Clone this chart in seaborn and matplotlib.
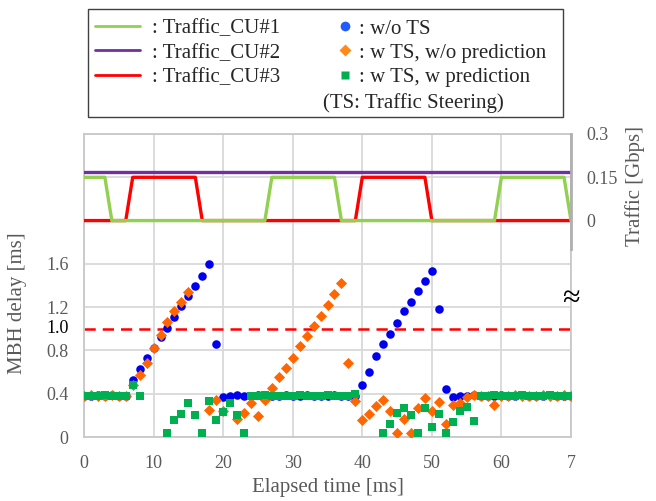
import numpy as np
import pandas as pd
import matplotlib
matplotlib.use("Agg")
import matplotlib.pyplot as plt
from matplotlib.lines import Line2D
from matplotlib.patches import Rectangle
import seaborn as sns

nan = np.nan

# ---- data ----
time_ms = list(range(71))

delay_wo_ts = [0.38, 0.38, 0.39, 0.38, 0.39, 0.38, 0.38,
               0.53, 0.63, 0.73, 0.82, 0.92, 1.01, 1.11, 1.21, 1.30, 1.40, 1.49, 1.60, 0.86, 0.37,
               0.38, 0.39, 0.38, 0.38, 0.39, 0.38, 0.38, 0.38, 0.39, 0.38, 0.38, 0.39, 0.38, 0.38,
               0.38, 0.39, 0.38, 0.38, 0.38,
               0.48, 0.60, 0.75, 0.86, 0.95, 1.05, 1.16, 1.25, 1.35, 1.44, 1.53, 1.18, 0.44, 0.37,
               0.38, 0.38, 0.39, 0.38, 0.38, 0.38, 0.39, 0.38, 0.38, 0.39, 0.38, 0.38, 0.38, 0.39,
               0.38, 0.38, 0.38]

delay_ts_wo_pred = [0.38, 0.39, 0.38, 0.38, 0.39, 0.38, 0.38,
                    0.48, 0.57, 0.68, 0.82, 0.94, 1.06, 1.16, 1.25, 1.34,
                    nan, nan,
                    0.25, 0.34, 0.24, nan, 0.17, 0.22, 0.31, 0.19, 0.34,
                    0.45, 0.55, 0.64, 0.73, 0.84, 0.93, 1.03, 1.12, 1.22, 1.32, 1.42,
                    0.68, 0.33, 0.16, 0.21, 0.29, 0.34, 0.24, 0.04, 0.17, 0.04, 0.27, 0.36, 0.24,
                    0.32, 0.12, 0.30, 0.31, 0.37, 0.39,
                    0.38, 0.38, 0.30, 0.38, 0.38, 0.39, 0.38, 0.38, 0.38, 0.39, 0.38, 0.38, 0.39, 0.38]

delay_ts_w_pred = [0.38, 0.38, 0.38, 0.39, 0.38, 0.38, 0.38, 0.48, 0.38,
                   nan, nan, nan,
                   0.04, 0.16, 0.21, 0.31, 0.20, 0.04, 0.33, 0.16, 0.23, 0.31, 0.20, 0.04,
                   0.38, 0.38, 0.39, 0.38, 0.38, 0.38, 0.38, 0.39, 0.38, 0.38, 0.38, 0.39, 0.38,
                   0.38, 0.38, 0.40,
                   nan, nan, nan,
                   0.04, 0.12, 0.22, 0.27, 0.20, 0.04, 0.27, 0.09, 0.21, 0.04, 0.14, 0.24, 0.28, 0.15,
                   0.38, 0.38, 0.39, 0.38, 0.38, 0.38, 0.39, 0.38, 0.38, 0.38, 0.39, 0.38, 0.38, 0.38]

cu1_t = [0, 3, 4, 26, 27, 36, 37, 59, 60, 69, 70]
cu1_gbps = [0.15, 0.15, 0, 0, 0.15, 0.15, 0, 0, 0.15, 0.15, 0]
cu2_t = [0, 70]
cu2_gbps = [0.17, 0.17]
cu3_t = [0, 6, 7, 16, 17, 39, 40, 49, 50, 70]
cu3_gbps = [0, 0, 0.15, 0.15, 0, 0, 0.15, 0.15, 0, 0]

delay_limit = 1.0
xtick_vals = [0, 10, 20, 30, 40, 50, 60, 70]
xtick_labels = ["0", "10", "20", "30", "40", "50", "60", "7"]
ytick_vals = [0, 0.4, 0.8, 1.2, 1.6, 2.0, 2.4, 2.8]
ytick_labels = ["0", "0.4", "0.8", "1.2", "1.6", "", "", ""]
y2tick_vals = [0, 0.15, 0.3]
y2tick_labels = ["0", "0.15", "0.3"]

# ---- style ----
sns.set_theme(style="whitegrid")
plt.rcParams["font.family"] = "Liberation Serif"

GRAY = "#595959"
GRID = "#D9D9D9"

fig = plt.figure(figsize=(6.56, 5.01), dpi=100)
ax = fig.add_axes([84/656, 1-437/501, 487/656, 303/501])
ax.set_facecolor("white")

series = [
    (delay_wo_ts, "#0000F0", "o", 38),
    (delay_ts_wo_pred, "#FF6600", "D", 32),
    (delay_ts_w_pred, "#00B050", "s", 32),
]
for vals, col, mk, sz in series:
    df = pd.DataFrame({"t": time_ms, "d": vals}).dropna()
    sns.scatterplot(data=df, x="t", y="d", color=col, marker=mk, s=sz,
                    linewidth=0, ax=ax, legend=False, zorder=3)

ax.axhline(delay_limit, color="#FF0000", lw=1.8, dashes=(4.5, 2.8), zorder=2)

ax.set_xlim(0, 70)
ax.set_ylim(0, 2.8)
ax.set_xticks(xtick_vals)
ax.set_xticklabels(xtick_labels)
ax.set_yticks(ytick_vals)
ax.set_yticklabels(ytick_labels)
ax.tick_params(axis="both", length=0, labelsize=13, labelcolor=GRAY)
ax.tick_params(axis="y", pad=11)
ax.tick_params(axis="x", pad=13)
ax.grid(True, color=GRID, lw=1.3)
for s in ax.spines.values():
    s.set_color("#C8C8C8")
    s.set_linewidth(1.3)

ax.set_xlabel("Elapsed time [ms]", fontsize=15, color=GRAY, labelpad=4)
ax.set_ylabel("MBH delay [ms]", fontsize=15, color=GRAY)
ax.yaxis.set_label_coords(-0.118, 0.44)

ax.annotate("1.0", xy=(0, delay_limit), xycoords=ax.get_yaxis_transform(),
            xytext=(-11, 0), textcoords="offset points", ha="right", va="center",
            fontsize=13, color="black")

# traffic on secondary axis
ax2 = ax.twinx()
sns.lineplot(x=cu2_t, y=cu2_gbps, color="#7030A0", lw=2.4, ax=ax2)
sns.lineplot(x=cu3_t, y=cu3_gbps, color="#FF0000", lw=2.4, ax=ax2)
sns.lineplot(x=cu1_t, y=cu1_gbps, color="#92D050", lw=2.4, ax=ax2)
ax2.set_ylim(-0.75, 0.3)
ax2.set_yticks(y2tick_vals)
ax2.set_yticklabels(y2tick_labels)
ax2.grid(False)
ax2.tick_params(axis="y", length=0, labelsize=13, labelcolor=GRAY, pad=11)
for s in ax2.spines.values():
    s.set_visible(False)
ax2.spines["right"].set_visible(True)
ax2.spines["right"].set_color("#B0B0B0")
ax2.spines["right"].set_linewidth(2)
ax2.spines["right"].set_bounds(-0.1, 0.3)
ax2.set_ylabel("Traffic [Gbps]", fontsize=15, color=GRAY, rotation=90)
ax2.yaxis.set_label_coords(1.112, 0.83)

ax.text(1.0, 1.27, "\u2248", transform=ax.get_yaxis_transform(), ha="center", va="center",
        fontsize=23, color="black", zorder=5, clip_on=False)

# ---- legend ----
fig.patches.append(Rectangle((88/656, 1-117/501), 475/656, 108/501, transform=fig.transFigure,
                             fill=False, edgecolor="#404040", lw=1.0))
line_handles = [Line2D([], [], color="#92D050", lw=2),
                Line2D([], [], color="#7030A0", lw=2),
                Line2D([], [], color="#FF0000", lw=2)]
line_labels = [": Traffic_CU#1", ": Traffic_CU#2", ": Traffic_CU#3"]
mk_handles = [Line2D([], [], ls="none", marker="o", ms=7, color="#1F5BFF", mec="none"),
              Line2D([], [], ls="none", marker="D", ms=6, color="#FF8A1A", mec="none"),
              Line2D([], [], ls="none", marker="s", ms=6, color="#00B050", mec="none")]
mk_labels = [": w/o TS", ": w TS, w/o prediction", ": w TS, w prediction"]

leg1 = fig.legend(line_handles, line_labels, loc="upper left", bbox_to_anchor=(95/656, 1-19/501),
                  frameon=False, fontsize=15, handlelength=2.15, handletextpad=0.6,
                  labelspacing=0.22, borderpad=0, borderaxespad=0)
leg2 = fig.legend(mk_handles, mk_labels, loc="upper left", bbox_to_anchor=(337/656, 1-19/501),
                  frameon=False, fontsize=15, handlelength=0.8, handletextpad=0.25,
                  labelspacing=0.22, borderpad=0, borderaxespad=0)
fig.text(323/656, 1-103/501, "(TS: Traffic Steering)", fontsize=15, va="center", ha="left")

fig.savefig("out.png", dpi=100)
